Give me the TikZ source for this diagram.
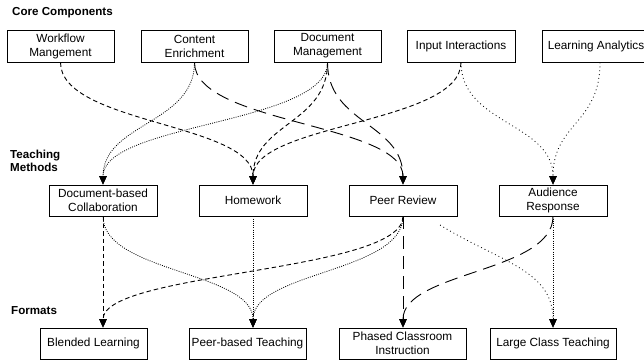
\documentclass[tikz,border=0pt]{standalone}
\usepackage{fontspec}
\setmainfont{Liberation Sans}
\usetikzlibrary{arrows.meta}
\begin{document}
\begin{tikzpicture}[x=1pt,y=-1pt,
  box/.style={draw, line width=0.9pt, inner sep=1pt, align=center, font=\fontsize{11.8}{14}\selectfont},
  hdr/.style={font=\bfseries\fontsize{11.6}{13}\selectfont, align=left, anchor=west, inner sep=0pt},
  e/.style={line width=0.9pt, -{Triangle[width=7.5pt,length=8.5pt]}},
  sdash/.style={dash pattern=on 4.5pt off 3pt},
  ldash/.style={dash pattern=on 13pt off 7pt},
  dots/.style={dash pattern=on 0.9pt off 1.3pt, line width=0.8pt},
  ldots/.style={dash pattern=on 0.9pt off 3pt, line width=0.8pt}]
\useasboundingbox (0,0) rectangle (644,360);
\clip (0,0) rectangle (644,360);
% headers
\node[hdr] (h1) at (12,13) {Core Components};
\node[hdr] (h2) at (10,161) {Teaching\\Methods};
\node[hdr] (h3) at (11,311) {Formats};
% top row
\node[box, minimum width=107pt, minimum height=32pt] (wf) at (60.5,46) {Workflow\\Mangement};
\node[box, minimum width=107pt, minimum height=32pt] (ce) at (194.5,46) {Content\\Enrichment};
\node[box, minimum width=107pt, minimum height=32pt] (dm) at (327.5,46) {Document\\Management};
\node[box, minimum width=108pt, minimum height=32pt] (ii) at (461,46) {Input Interactions};
\node[box, minimum width=108pt, minimum height=32pt] (la) at (596,46) {Learning Analytics};
% middle row
\node[box, minimum width=108pt, minimum height=31pt] (dc) at (103,200.5) {Document-based\\Collaboration};
\node[box, minimum width=108pt, minimum height=31pt] (hw) at (253,200.5) {Homework};
\node[box, minimum width=108pt, minimum height=31pt] (pr) at (403,200.5) {Peer Review};
\node[box, minimum width=108pt, minimum height=31pt] (ar) at (553,200.5) {Audience\\Response};
% bottom row
\node[box, minimum width=107pt, minimum height=31pt] (bl) at (93.5,343.5) {Blended Learning};
\node[box, minimum width=117pt, minimum height=31pt] (pb) at (247.5,343.5) {Peer-based Teaching};
\node[box, minimum width=127pt, minimum height=31pt] (ph) at (402.5,343.5) {Phased Classroom\\Instruction};
\node[box, minimum width=126pt, minimum height=31pt] (lc) at (553,343.5) {Large Class Teaching};
% top -> middle
\draw[e,sdash] (wf.south) .. controls +(0,61.5) and +(0,-61.5) .. (hw.north);
\draw[e,dots] (ce.south) .. controls +(0,61.5) and +(0,-61.5) .. (dc.north);
\draw[e,ldash] (ce.south) .. controls +(0,61.5) and +(0,-61.5) .. (pr.north);
\draw[e,dots] (dm.south) .. controls +(0,61.5) and +(0,-61.5) .. (dc.north);
\draw[e,sdash] (dm.south) .. controls +(0,61.5) and +(0,-61.5) .. (hw.north);
\draw[e,ldash] (dm.south) .. controls +(0,61.5) and +(0,-61.5) .. (pr.north);
\draw[e,sdash] (ii.south) .. controls +(0,61.5) and +(0,-61.5) .. (hw.north);
\draw[e,ldots] (ii.south) .. controls +(0,61.5) and +(0,-61.5) .. (ar.north);
\draw[e,ldots] (la.south -| 600,0) .. controls +(0,61.5) and +(0,-61.5) .. (ar.north);
% middle -> bottom
\draw[e,sdash] (dc.south) -- (dc.south |- bl.north);
\draw[e,dots] (dc.south) .. controls +(0,56) and +(0,-56) .. (hw.south |- pb.north);
\draw[e,dots] (hw.south) -- (hw.south |- pb.north);
\draw[e,sdash] (pr.south) .. controls +(0,56) and +(0,-56) .. (dc.south |- bl.north);
\draw[e,dots] (pr.south) .. controls +(0,56) and +(0,-56) .. (hw.south |- pb.north);
\draw[e,ldash] (pr.south) -- (pr.south |- ph.north);
\coordinate (prx) at (440,225);
\draw[e,ldots] (prx) .. controls (500,262) and (553,270) .. (lc.north);
\draw[e,ldash] (ar.south) .. controls +(0,56) and +(0,-56) .. (pr.south |- ph.north);
\draw[e,dots] (ar.south) -- (lc.north);
\end{tikzpicture}
\end{document}
